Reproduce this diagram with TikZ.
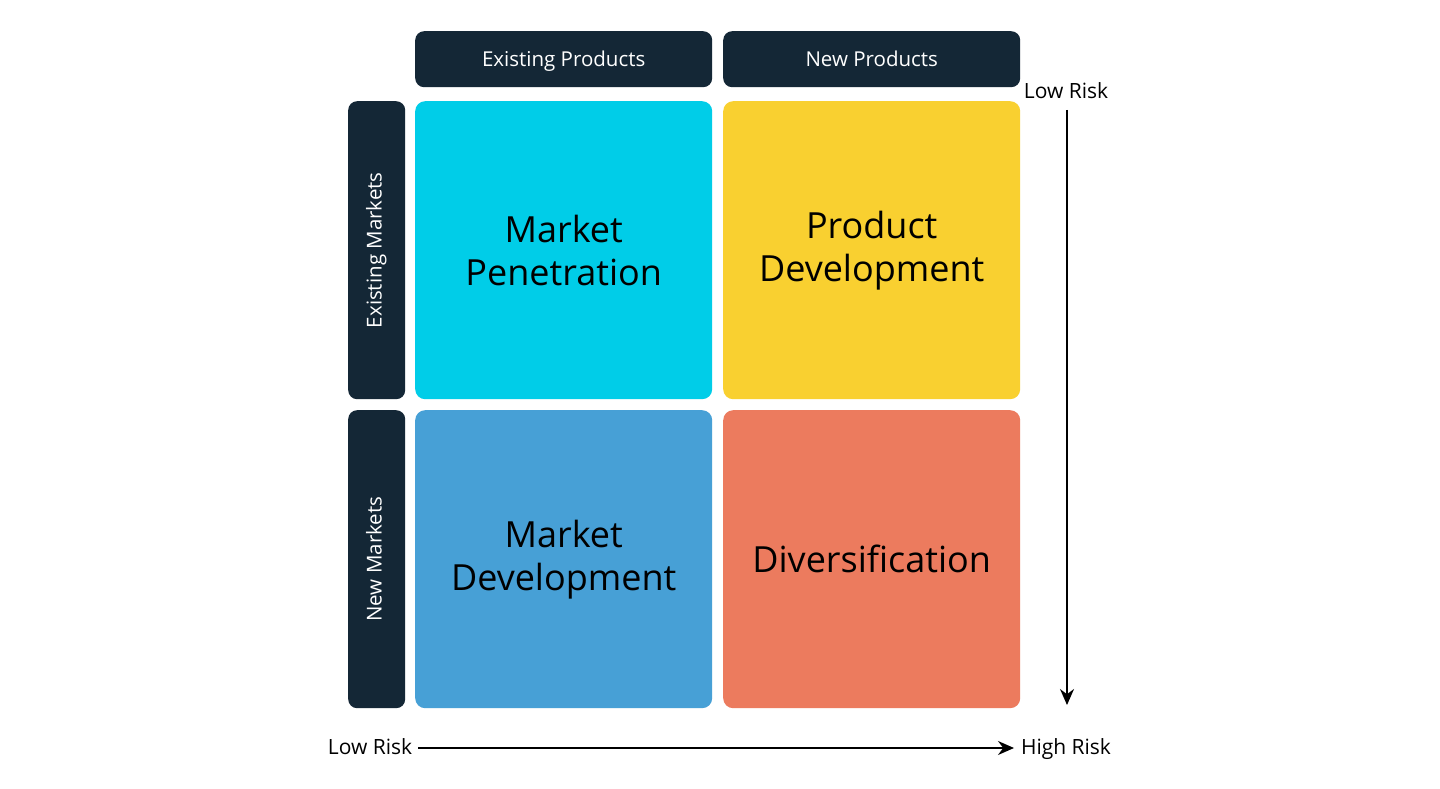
\documentclass[tikz,border=0pt]{standalone}
\usepackage{fontspec}
\setmainfont{Open Sans}
\usetikzlibrary{arrows.meta}
\definecolor{navy}{HTML}{142736}
\definecolor{cyanq}{HTML}{00CDE8}
\definecolor{yellowq}{HTML}{F9D030}
\definecolor{blueq}{HTML}{47A0D6}
\definecolor{coralq}{HTML}{EC7B5E}
\begin{document}
\begin{tikzpicture}[x=1pt,y=-1pt,
  quad/.style={rounded corners=10pt, inner sep=0pt, anchor=north west, minimum width=297pt, minimum height=298pt, align=center, font=\fontsize{36}{43}\selectfont, text=black},
  head/.style={rounded corners=9pt, fill=navy, inner sep=0pt, anchor=north west, minimum width=297pt, minimum height=56pt, text height=14pt, text depth=0pt, font=\fontsize{20.5}{24}\selectfont, text=white},
  side/.style={rounded corners=9pt, fill=navy, inner sep=0pt, anchor=north west, minimum width=57pt, minimum height=298pt},
  sidelab/.style={rotate=90, font=\fontsize{20.5}{24}\selectfont, text=white},
  risk/.style={font=\fontsize{21}{25}\selectfont, text height=15pt, text depth=0pt, inner sep=0pt, text=black},
  axis/.style={line width=1.6pt, -{Stealth[length=16pt,width=14pt]}}]
\useasboundingbox (0,0) rectangle (1440,789);
\fill[white] (0,0) rectangle (1440,789);
\node[head] (h1) at (415,31) {Existing Products};
\node[head] (h2) at (723,31) {New Products};
\node[side] (s1) at (348,101) {};
\node[side] (s2) at (348,410) {};
\node[sidelab] (s1l) at (s1.center) {\strut Existing Markets};
\node[sidelab] (s2l) at (s2.center) {\strut New Markets};
\node[quad, fill=cyanq] (mp) at (415,101) {Market\\Penetration};
\node[quad, fill=yellowq] (pd) at (723,101) {Product\\Development};
\node[quad, fill=blueq] (md) at (415,410) {Market\\Development};
\node[quad, fill=coralq] (dv) at (723,410) {Diversification};
\node[risk] (lrv) at (1066,91) {Low Risk};
\node[risk] (lrh) at (370,747) {Low Risk};
\node[risk] (hrh) at (1066,747) {High Risk};
\coordinate (vtop) at (1067,110);
\coordinate (vbot) at (1067,705);
\coordinate (hl) at (418,748);
\coordinate (hr) at (1014,748);
\draw[axis] (vtop) -- (vbot);
\draw[axis] (hl) -- (hr);
\end{tikzpicture}
\end{document}
